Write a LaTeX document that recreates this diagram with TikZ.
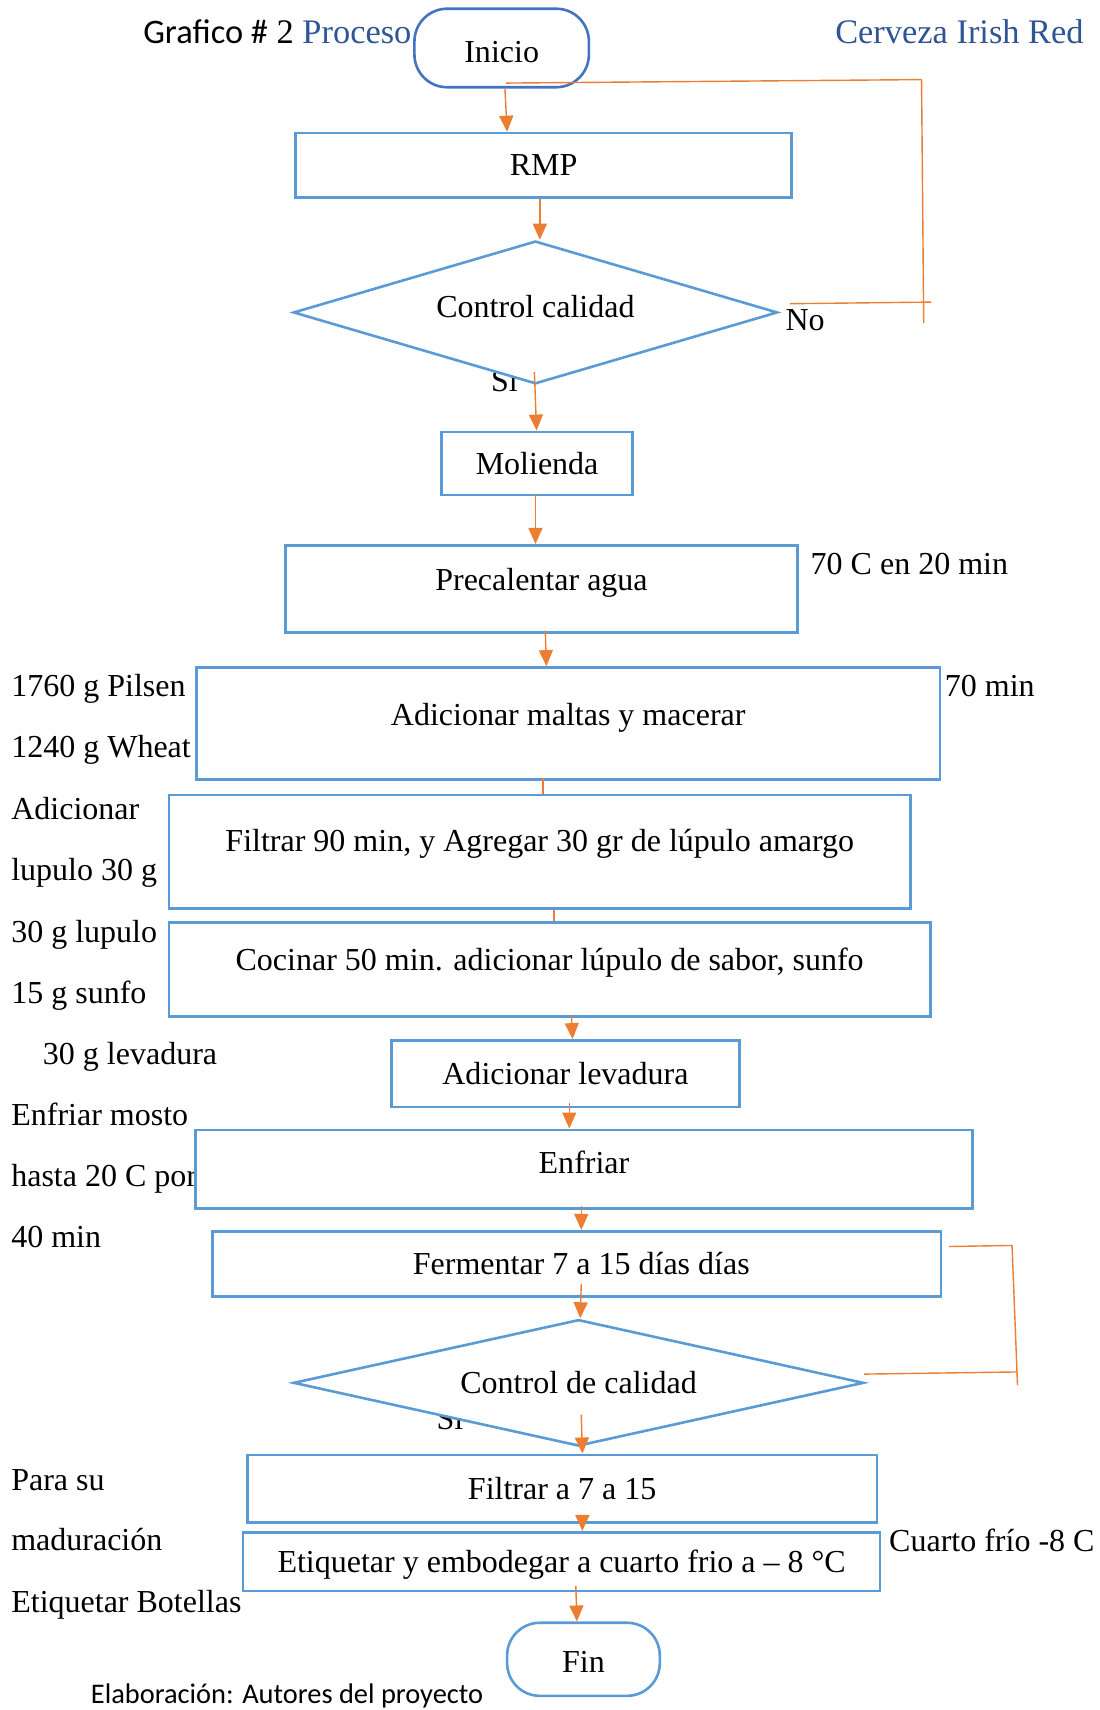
\documentclass[tikz,border=0pt]{standalone}
\usepackage{fontspec}
\setmainfont{Liberation Serif}
\newfontfamily\calib{Carlito}
\usetikzlibrary{arrows.meta,shapes.geometric,calc}
\newlength\pxu
\setlength\pxu{0.5452pt}
\definecolor{boxblue}{HTML}{5B9BD5}
\definecolor{darkblue}{HTML}{4472C4}
\definecolor{titleblue}{HTML}{2F5597}
\definecolor{connor}{HTML}{ED7D31}
\begin{document}
\begin{tikzpicture}[x=0.5452pt,y=0.5452pt,
  font=\fontsize{16}{19}\selectfont,
  sz/.style 2 args={minimum width=#1*\pxu,minimum height=#2*\pxu},
  box/.style={draw=boxblue,line width=1.3pt,fill=white,rectangle,inner sep=0pt},
  term/.style={box,rounded corners=30*\pxu},
  decision/.style={draw=boxblue,line width=1.3pt,fill=white,diamond,inner sep=0pt},
  lbl/.style={anchor=base west,inner sep=0pt},
  conn/.style={draw=connor,line width=0.7pt},
  arr/.style={conn,-{Triangle[length=8pt,width=7pt]}}]
\useasboundingbox (0,0) rectangle (1008,-1568);

% title
\node[lbl] (title) at (131,-40) {\fontsize{17.2}{20}\selectfont{\calib Grafico \#} 2 \textcolor{titleblue}{Proceso}};
\node[anchor=base east,inner sep=0pt] (title2) at (994,-40) {\fontsize{17.2}{20}\selectfont\textcolor{titleblue}{Cerveza Irish Red}};

% side notes
\node[lbl] (n1) at (10,-639) {1760 g Pilsen};
\node[lbl] (n2) at (10,-695) {1240 g Wheat};
\node[lbl] (n3) at (10,-751) {Adicionar};
\node[lbl] (n4) at (10,-807) {lupulo 30 g};
\node[lbl] (n5) at (10,-864) {30 g lupulo};
\node[lbl] (n6) at (10,-920) {15 g sunfo};
\node[lbl] (n7) at (39,-976) {30 g levadura};
\node[lbl] (n8) at (10,-1032) {Enfriar mosto};
\node[lbl] (n9) at (10,-1088) {hasta 20 C por};
\node[lbl] (n10) at (10,-1144) {40 min};
\node[lbl] (n11) at (10,-1367) {Para su};
\node[lbl] (n12) at (10,-1422) {maduración};
\node[lbl] (n13) at (10,-1479) {Etiquetar Botellas};
\node[lbl] (r1) at (743,-527) {70 C en 20 min};
\node[lbl] (r2) at (866,-639) {70 min};
\node[lbl] (r3) at (815,-1423) {Cuarto frío -8 C};
\node[lbl] (no) at (720,-303) {No};
\node[lbl] (si1) at (450,-359) {Si};
\node[lbl] (si2) at (400,-1311) {Si};

% flow nodes
\node[term,draw=darkblue,sz={160}{72},label={[yshift=-3.5*\pxu]center:Inicio}] (inicio) at (460,-44) {};
\node[box,sz={455}{59}] (rmp) at (498.5,-151.5) {RMP};
\node[decision,sz={444}{131},label={[yshift=5*\pxu]center:Control calidad}] (cc1) at (491,-286.5) {};
\node[box,sz={175}{58}] (molienda) at (492.5,-425) {Molienda};
\node[box,sz={469}{80},label={[yshift=6*\pxu]center:Precalentar agua}] (precal) at (496.5,-540) {};
\node[box,sz={682}{103},label={[yshift=5*\pxu]center:Adicionar maltas y macerar}] (maltas) at (521,-663.5) {};
\node[box,sz={680}{104},label={[yshift=7*\pxu]center:Filtrar 90 min, y Agregar 30 gr de lúpulo amargo}] (filtrar) at (495,-781) {};
\node[box,sz={698}{86},label={[yshift=6*\pxu]center:Cocinar 50 min. adicionar lúpulo de sabor, sunfo}] (cocinar) at (504,-889) {};
\node[box,sz={319}{61}] (levadura) at (518.5,-984.5) {Adicionar levadura};
\node[box,sz={713}{72},label={[yshift=6*\pxu]center:Enfriar}] (enfriar) at (535.5,-1072) {};
\node[box,sz={668}{60},label={[xshift=4*\pxu]center:Fermentar 7 a 15 días días}] (fermentar) at (529,-1159) {};
\node[decision,sz={523}{116},label={center:Control de calidad}] (cc2) at (530.5,-1268) {};
\node[box,sz={577}{62}] (filtrar2) at (515.5,-1365) {Filtrar a 7 a 15};
\node[box,sz={584}{54},label={[yshift=-3*\pxu]center:Etiquetar y embodegar a cuarto frio a – 8 °C}] (etiquetar) at (515,-1432) {};
\node[term,sz={140}{67},label={[yshift=-2.5*\pxu]center:Fin}] (fin) at (535,-1521.5) {};

\node[lbl] (elab) at (83,-1562) {\calib\fontsize{14.2}{17}\selectfont Elaboración: Autores del proyecto};

% connectors
\draw[arr] ($(inicio.south)+(3,0)$) -- ($(rmp.north)+(-33.5,0)$);
\draw[arr] ($(rmp.south)+(-3.5,0)$) -- ($(cc1.north)+(4,0)$);
\draw[arr] ($(cc1.south)+(-1,12)$) -- ($(molienda.north)+(-0.5,0)$);
\draw[arr] ($(molienda.south)+(-1.5,2)$) -- ($(precal.north)+(-5.5,0)$);
\draw[arr] ($(precal.south)+(3.5,3)$) -- ($(maltas.north)+(-20,0)$);
\draw[conn] ($(maltas.south)+(-23,3)$) -- ($(filtrar.north)+(3,0)$);
\draw[conn] ($(filtrar.south)+(13,0)$) -- ($(cocinar.north)+(4,0)$);
\draw[arr] ($(cocinar.south)+(20,2)$) -- ($(levadura.north)+(6.5,0)$);
\draw[arr] ($(levadura.south)+(3.5,5)$) -- ($(enfriar.north)+(-13.5,0)$);
\draw[arr] ($(enfriar.south)+(-2.5,3)$) -- ($(fermentar.north)+(4,0)$);
\draw[arr] ($(fermentar.south)+(4,13)$) -- ($(cc2.north)+(1.5,0)$);
\draw[arr] ($(cc2.south)+(2.5,30)$) -- ($(filtrar2.north)+(18.5,0)$);
\draw[arr] ($(filtrar2.south)+(18.5,6)$) -- ($(etiquetar.north)+(19,0)$);
\draw[arr] ($(etiquetar.south)+(13,6)$) -- ($(fin.north)+(-6,0)$);

% feedback loops
\coordinate (fb1a) at (854,-277);
\coordinate (fb1t) at (845,-73);
\coordinate (fb1b) at (847,-296);
\draw[conn] ($(cc1.east)+(10,8)$) -- (fb1a);
\draw[conn] (fb1t) -- (fb1b);
\draw[conn] ($(inicio.south)+(4,5)$) -- (fb1t);

\coordinate (fb2t) at (928,-1142);
\coordinate (fb2b) at (933,-1270);
\coordinate (fb2m) at (933,-1258);
\draw[conn] ($(fermentar.east)+(6,16)$) -- (fb2t);
\draw[conn] (fb2t) -- (fb2b);
\draw[conn] ($(cc2.east)+(-1,8)$) -- (fb2m);
\end{tikzpicture}
\end{document}
